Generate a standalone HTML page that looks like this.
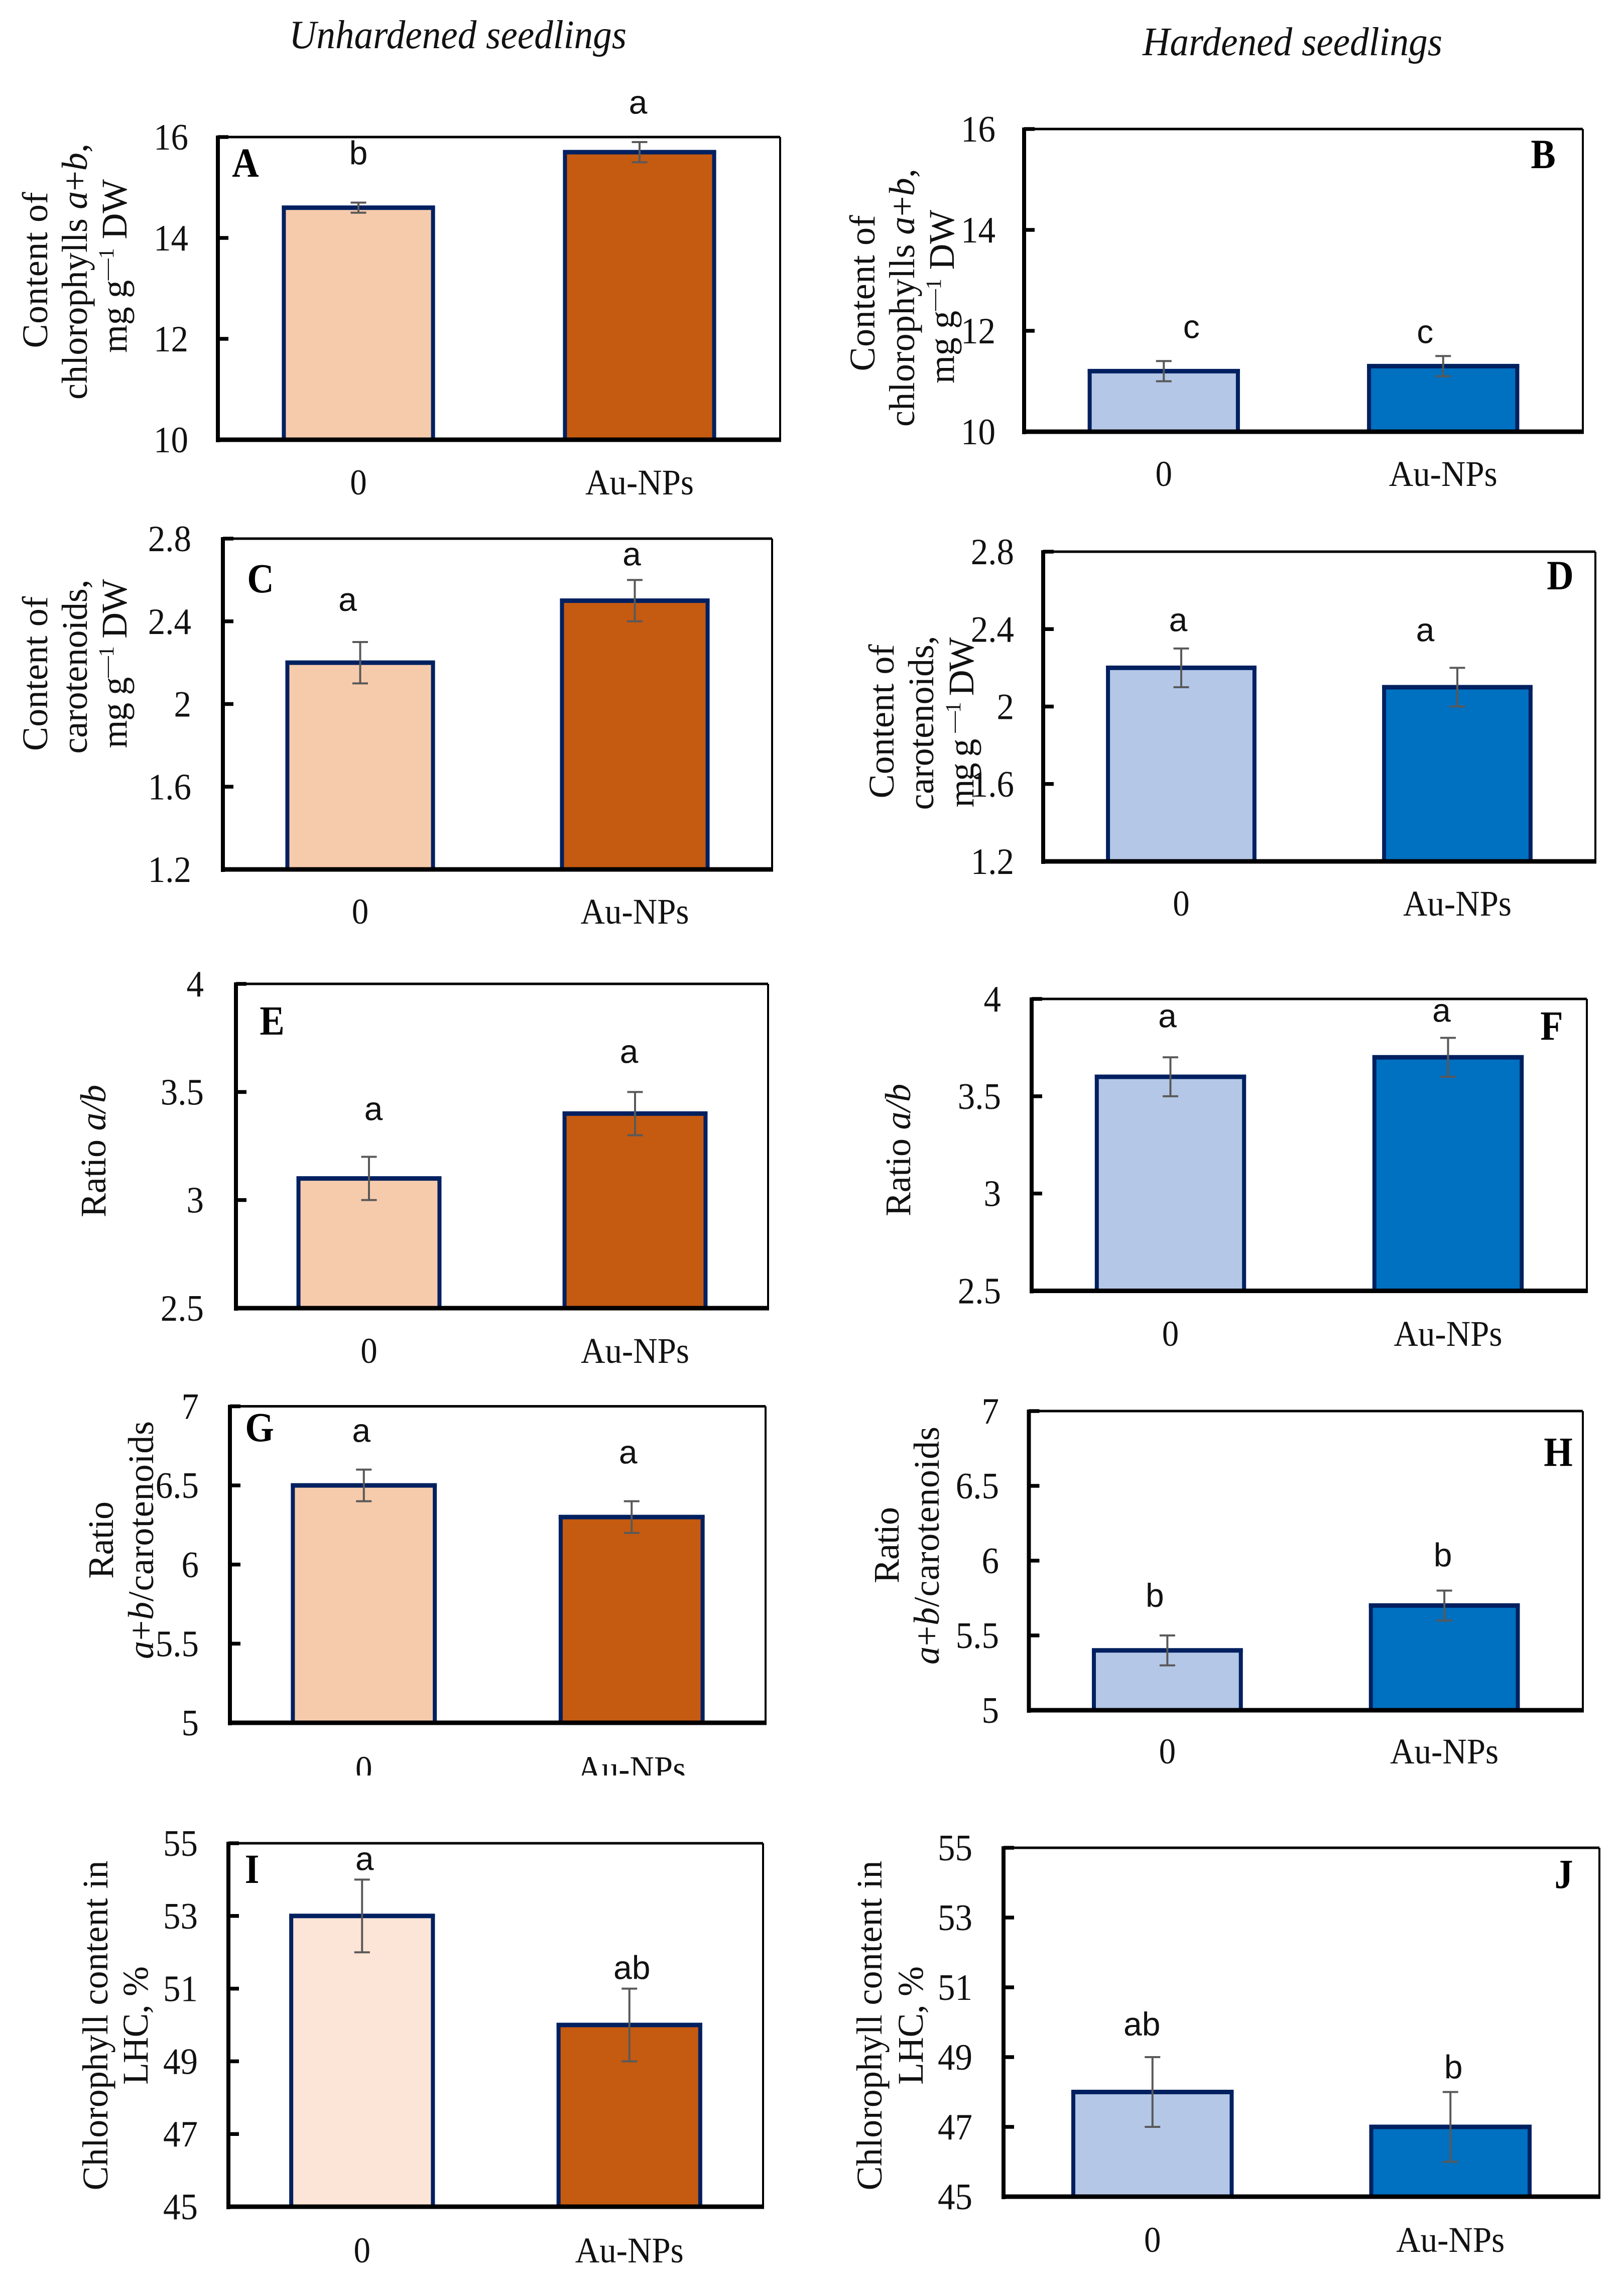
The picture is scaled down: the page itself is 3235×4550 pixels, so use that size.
<!DOCTYPE html>
<html lang="en">
<head>
<meta charset="utf-8">
<title>Pigment content in unhardened and hardened seedlings</title>
<style>
  html, body { margin: 0; padding: 0; background: #fff; }
  svg { display: block; }
  text { fill: #000; font-family: "Liberation Serif", serif; }
  .col-title { font-size: 80px; font-style: italic; fill: #111; }
  .y-title { font-size: 72px; text-anchor: middle; fill: #111; }
  .sup { font-size: 43px; }
  .panel-letter { font-size: 74px; font-weight: bold; text-anchor: middle; }
  .tick-label { font-size: 69px; text-anchor: end; fill: #111; }
  .cat-label { font-size: 67px; text-anchor: middle; fill: #111; }
  .sig-letter { font-family: "Liberation Sans", sans-serif; font-size: 66px; text-anchor: middle; fill: #111; }
</style>
</head>
<body>
<svg id="figure" xmlns="http://www.w3.org/2000/svg" width="3235" height="4550" viewBox="0 0 3235 4550">
  <rect x="0" y="0" width="3235" height="4550" fill="#ffffff"/>
  <defs>
    <clipPath id="clip-g-cats"><rect x="400" y="3450" width="1200" height="87"/></clipPath>
  </defs>

  <text class="col-title" x="576" y="96" textLength="672" lengthAdjust="spacingAndGlyphs">Unhardened seedlings</text>
  <text class="col-title" x="2276" y="110" textLength="597" lengthAdjust="spacingAndGlyphs">Hardened seedlings</text>

  <!-- Panel A -->
  <g id="panel-a"></g>
  <g>
    <text class="y-title" textLength="311" transform="translate(94,538) rotate(-90)">Content of</text>
    <text class="y-title" textLength="510" transform="translate(173,541) rotate(-90)">chlorophylls <tspan font-style="italic">a</tspan>+<tspan font-style="italic">b</tspan>,</text>
    <text class="y-title" textLength="346" transform="translate(252,530) rotate(-90)">mg g<tspan class="sup" dy="-26">—1</tspan><tspan dy="26"> DW</tspan></text>
  </g>
  <text class="panel-letter" transform="translate(489,352) scale(1,1.12)">A</text>

  <!-- Panel B -->
  <g id="panel-b"></g>
  <g>
    <text class="y-title" textLength="311" transform="translate(1742,584) rotate(-90)">Content of</text>
    <text class="y-title" textLength="514" transform="translate(1821,593) rotate(-90)">chlorophylls <tspan font-style="italic">a</tspan>+<tspan font-style="italic">b</tspan>,</text>
    <text class="y-title" textLength="346" transform="translate(1900,591) rotate(-90)">mg g<tspan class="sup" dy="-26">—1</tspan><tspan dy="26"> DW</tspan></text>
  </g>
  <text class="panel-letter" transform="translate(3074,335) scale(1,1.12)">B</text>

  <!-- Panel C -->
  <g id="panel-c"></g>
  <g>
    <text class="y-title" textLength="308" transform="translate(94,1342) rotate(-90)">Content of</text>
    <text class="y-title" textLength="347" transform="translate(173,1328) rotate(-90)">carotenoids,</text>
    <text class="y-title" textLength="337" transform="translate(252,1322) rotate(-90)">mg g<tspan class="sup" dy="-26">—1</tspan><tspan dy="26"> DW</tspan></text>
  </g>
  <text class="panel-letter" transform="translate(519,1180) scale(1,1.12)">C</text>

  <!-- Panel D -->
  <g id="panel-d"></g>
  <g>
    <text class="y-title" textLength="307" transform="translate(1780,1437) rotate(-90)">Content of</text>
    <text class="y-title" textLength="347" transform="translate(1859,1440) rotate(-90)">carotenoids,</text>
    <text class="y-title" textLength="339" transform="translate(1939,1439) rotate(-90)">mg g <tspan class="sup" dy="-26">—1</tspan><tspan dy="26"> DW</tspan></text>
  </g>
  <text class="panel-letter" transform="translate(3108,1174) scale(1,1.12)">D</text>

  <!-- Panel E -->
  <g id="panel-e"></g>
  <text class="y-title" textLength="264" transform="translate(210,2293) rotate(-90)">Ratio <tspan font-style="italic">a/b</tspan></text>
  <text class="panel-letter" transform="translate(542,2061) scale(1,1.12)">E</text>

  <!-- Panel F -->
  <g id="panel-f"></g>
  <text class="y-title" textLength="264" transform="translate(1813,2291) rotate(-90)">Ratio <tspan font-style="italic">a/b</tspan></text>
  <text class="panel-letter" transform="translate(3091,2071) scale(1,1.12)">F</text>

  <!-- Panel G -->
  <g id="panel-g"></g>
  <g>
    <text class="y-title" textLength="154" transform="translate(225,3068) rotate(-90)">Ratio</text>
    <text class="y-title" textLength="474" transform="translate(305,3068) rotate(-90)"><tspan font-style="italic">a</tspan>+<tspan font-style="italic">b</tspan>/carotenoids</text>
  </g>
  <text class="panel-letter" transform="translate(517,2871) scale(1,1.12)">G</text>

  <!-- Panel H -->
  <g id="panel-h"></g>
  <g>
    <text class="y-title" textLength="152" transform="translate(1790,3078) rotate(-90)">Ratio</text>
    <text class="y-title" textLength="474" transform="translate(1870,3079) rotate(-90)"><tspan font-style="italic">a</tspan>+<tspan font-style="italic">b</tspan>/carotenoids</text>
  </g>
  <text class="panel-letter" transform="translate(3104,2920) scale(1,1.12)">H</text>

  <!-- Panel I -->
  <g id="panel-i"></g>
  <g>
    <text class="y-title" textLength="657" transform="translate(214,4035) rotate(-90)">Chlorophyll content in</text>
    <text class="y-title" textLength="236" transform="translate(294,4035) rotate(-90)">LHC, %</text>
  </g>
  <text class="panel-letter" transform="translate(502,3751) scale(1,1.12)">I</text>

  <!-- Panel J -->
  <g id="panel-j"></g>
  <g>
    <text class="y-title" textLength="657" transform="translate(1756,4035) rotate(-90)">Chlorophyll content in</text>
    <text class="y-title" textLength="236" transform="translate(1838,4035) rotate(-90)">LHC, %</text>
  </g>
  <text class="panel-letter" transform="translate(3115,3761) scale(1,1.12)">J</text>
</svg>

<script>
// ---- Data ----
const categories = ['0', 'Au-NPs'];

const ticksChlorophyll = [10, 12, 14, 16];
const ticksCarotenoids = [1.2, 1.6, 2, 2.4, 2.8];
const ticksRatioAB = [2.5, 3, 3.5, 4];
const ticksRatioCar = [5, 5.5, 6, 6.5, 7];
const ticksLhc = [45, 47, 49, 51, 53, 55];

const valuesA = [14.6, 15.7];
const errorsA = [0.1, 0.2];
const lettersA = ['b', 'a'];

const valuesB = [11.2, 11.3];
const errorsB = [0.2, 0.2];
const lettersB = ['c', 'c'];

const valuesC = [2.2, 2.5];
const errorsC = [0.1, 0.1];
const lettersC = ['a', 'a'];

const valuesD = [2.2, 2.1];
const errorsD = [0.1, 0.1];
const lettersD = ['a', 'a'];

const valuesE = [3.1, 3.4];
const errorsE = [0.1, 0.1];
const lettersE = ['a', 'a'];

const valuesF = [3.6, 3.7];
const errorsF = [0.1, 0.1];
const lettersF = ['a', 'a'];

const valuesG = [6.5, 6.3];
const errorsG = [0.1, 0.1];
const lettersG = ['a', 'a'];

const valuesH = [5.4, 5.7];
const errorsH = [0.1, 0.1];
const lettersH = ['b', 'b'];

const valuesI = [53, 50];
const errorsI = [1, 1];
const lettersI = ['a', 'ab'];

const valuesJ = [48, 47];
const errorsJ = [1, 1];
const lettersJ = ['ab', 'b'];

// ---- Layout and styling (separate from the data) ----
const PEACH = '#f6cbac', ORANGE = '#c55a11', PALE_PEACH = '#fce4d6', LIGHT_BLUE = '#b4c7e7', BLUE = '#0070c0';

const panels = [
  { id: 'a', v: valuesA, e: errorsA, l: lettersA, t: ticksChlorophyll, box: [434, 1554, 273, 876], fill: [PEACH, ORANGE], catY: 985, tickX: 375, dx: [0, -3], lift: [76, 56.5] },
  { id: 'b', v: valuesB, e: errorsB, l: lettersB, t: ticksChlorophyll, box: [2040, 3153, 257, 860], fill: [LIGHT_BLUE, BLUE], catY: 968, tickX: 1983, dx: [55, -36], lift: [46, 26] },
  { id: 'c', v: valuesC, e: errorsC, l: lettersC, t: ticksCarotenoids, box: [444, 1538, 1073, 1732], fill: [PEACH, ORANGE], catY: 1840, tickX: 381, dx: [-25, -6], lift: [62, 29] },
  { id: 'd', v: valuesD, e: errorsD, l: lettersD, t: ticksCarotenoids, box: [2078, 3178, 1099, 1716], fill: [LIGHT_BLUE, BLUE], catY: 1824, tickX: 2020, dx: [-6, -64], lift: [34.5, 53] },
  { id: 'e', v: valuesE, e: errorsE, l: lettersE, t: ticksRatioAB, box: [470, 1530, 1960, 2606], fill: [PEACH, ORANGE], catY: 2715, tickX: 406, dx: [9, -12], lift: [73, 58] },
  { id: 'f', v: valuesF, e: errorsF, l: lettersF, t: ticksRatioAB, box: [2055, 3161, 1990, 2571.5], fill: [LIGHT_BLUE, BLUE], catY: 2681, tickX: 1994, dx: [-6, -13], lift: [60, 32] },
  { id: 'g', v: valuesG, e: errorsG, l: lettersG, t: ticksRatioCar, box: [458, 1525, 2801.5, 3432], fill: [PEACH, ORANGE], catY: 3548, tickX: 396, dx: [-5, -7], lift: [55, 75], catClip: 'clip-g-cats' },
  { id: 'h', v: valuesH, e: errorsH, l: lettersH, t: ticksRatioCar, box: [2049.5, 3153, 2811, 3407], fill: [LIGHT_BLUE, BLUE], catY: 3513, tickX: 1990, dx: [-25, -3], lift: [57, 48] },
  { id: 'i', v: valuesI, e: errorsI, l: lettersI, t: ticksLhc, box: [455, 1520, 3672, 4396], fill: [PALE_PEACH, ORANGE], catY: 4507, tickX: 394, dx: [5, 5], lift: [19, 19] },
  { id: 'j', v: valuesJ, e: errorsJ, l: lettersJ, t: ticksLhc, box: [1999, 3186, 3681, 4376], fill: [LIGHT_BLUE, BLUE], catY: 4486, tickX: 1937, dx: [-21, 6], lift: [43, 27] }
];

const SVG_NS = 'http://www.w3.org/2000/svg';
const NAVY = '#002060', ERR = '#595959';
const BAR_RATIO = 0.545, BAR_STROKE = 8, CAP = 31;

function make(parent, tag, attrs, content) {
  const node = document.createElementNS(SVG_NS, tag);
  Object.keys(attrs).forEach(function (k) { node.setAttribute(k, attrs[k]); });
  if (content !== undefined) node.textContent = content;
  parent.appendChild(node);
  return node;
}

function axisY(p) {
  const lo = Math.min.apply(null, p.t), hi = Math.max.apply(null, p.t);
  const top = p.box[2], bottom = p.box[3];
  return function (val) { return bottom - (val - lo) / (hi - lo) * (bottom - top); };
}

function axisX(p) {
  const left = p.box[0], right = p.box[1], band = (right - left) / categories.length;
  return {
    center: function (i) { return left + band * (i + 0.5); },
    barWidth: band * BAR_RATIO
  };
}

panels.forEach(function (p) {
  const g = document.getElementById('panel-' + p.id);
  const y = axisY(p), x = axisX(p);
  const left = p.box[0], right = p.box[1], top = p.box[2], bottom = p.box[3];
  let el;

  // Bars
  categories.forEach(function (cat, i) {
    const cx = x.center(i), w = x.barWidth, yTop = y(p.v[i]);
    el = make(g, 'rect', { x: cx - w / 2 + BAR_STROKE / 2, y: yTop, width: w - BAR_STROKE, height: bottom - yTop, fill: p.fill[i], stroke: NAVY, 'stroke-width': BAR_STROKE });
    
    
    el = make(g, 'line', { x1: cx - w / 2, x2: cx + w / 2, y1: yTop, y2: yTop, stroke: NAVY, 'stroke-width': 9 });
    
    
  });

  // Frame
  el = make(g, 'line', { x1: left, x2: right, y1: top, y2: top, stroke: '#000', 'stroke-width': 5 });
  
  
  el = make(g, 'line', { x1: right, x2: right, y1: top, y2: bottom, stroke: '#000', 'stroke-width': 4 });
  
  
  el = make(g, 'line', { x1: left, x2: left, y1: top - 3, y2: bottom + 5, stroke: '#000', 'stroke-width': 8 });
  
  
  el = make(g, 'line', { x1: left - 3, x2: right + 2, y1: bottom, y2: bottom, stroke: '#000', 'stroke-width': 9 });
  
  

  // Y ticks
  p.t.forEach(function (tick) {
    el = make(g, 'line', { x1: left, x2: left + 21, y1: y(tick), y2: y(tick), stroke: '#000', 'stroke-width': 7.5 });
    
    
    el = make(g, 'text', { class: 'tick-label', transform: 'translate(' + p.tickX + ',' + (y(tick) + 25) + ') scale(1,1.07)' }, String(tick));
    
    
  });

  // Category label layer (panel G's labels are cropped in the source figure)
  const catLayer = make(g, 'g', p.catClip ? { 'clip-path': 'url(#' + p.catClip + ')' } : {});
  
  

  // Error bars, significance letters, category labels
  categories.forEach(function (cat, i) {
    const cx = x.center(i), hi = y(p.v[i] + p.e[i]), lo = y(p.v[i] - p.e[i]);
    el = make(g, 'line', { x1: cx, x2: cx, y1: hi, y2: lo, stroke: ERR, 'stroke-width': 4 });
    
    
    el = make(g, 'line', { x1: cx - CAP / 2, x2: cx + CAP / 2, y1: hi, y2: hi, stroke: ERR, 'stroke-width': 4 });
    
    
    el = make(g, 'line', { x1: cx - CAP / 2, x2: cx + CAP / 2, y1: lo, y2: lo, stroke: ERR, 'stroke-width': 4 });
    
    
    el = make(g, 'text', { class: 'sig-letter', x: cx + p.dx[i], y: hi - p.lift[i] }, p.l[i]);
    
    
    el = make(catLayer, 'text', { class: 'cat-label', transform: 'translate(' + cx + ',' + p.catY + ') scale(1,1.08)' }, cat);
    
    
  });
});
</script>
</body>
</html>
